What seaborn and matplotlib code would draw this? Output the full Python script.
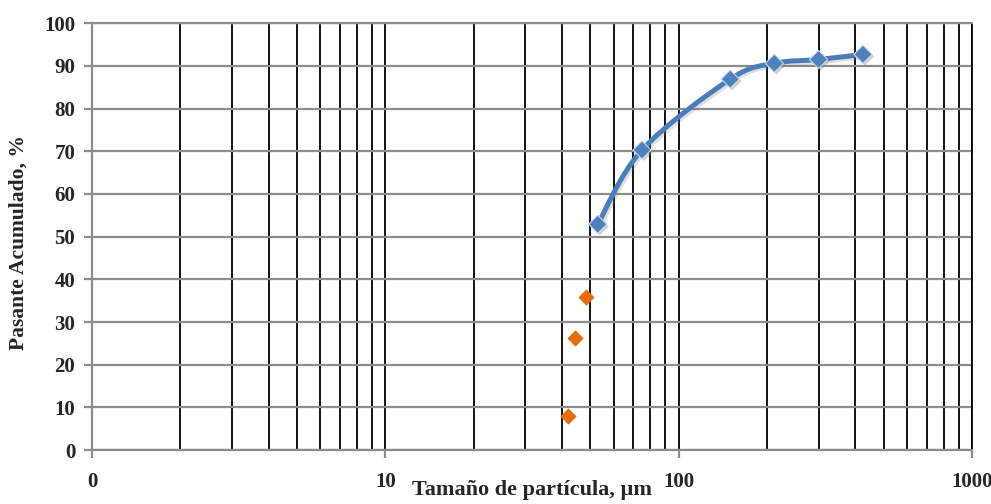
import numpy as np
import pandas as pd
import matplotlib
matplotlib.use('Agg')
import matplotlib.pyplot as plt
import matplotlib.ticker as mticker
import matplotlib.patheffects as pe
from matplotlib.path import Path
from matplotlib.patches import PathPatch
import seaborn as sns

# data
size_um = [53, 75, 150, 212, 300, 425]
pasante = [52.9, 70.3, 86.9, 90.6, 91.5, 92.7]
fine_size_um = [42.0, 44.3, 48.3]
fine_pasante = [8.0, 26.2, 35.9]
x_ticks = [1, 10, 100, 1000]
x_tick_labels = ['0', '10', '100', '1000']
y_ticks = list(range(0, 101, 10))

BLUE = '#4A7EBB'
ORANGE = '#E46C0A'
GRAY = '#8c8c8c'


def smooth_path(xs, ys):
    # cubic bezier through the points (smoothed line like the original), in log-x space
    lx = np.log10(np.asarray(xs, dtype=float))
    y = np.asarray(ys, dtype=float)
    pts = np.column_stack([lx, y])
    n = len(pts)
    verts = [pts[0]]
    codes = [Path.MOVETO]
    for i in range(n - 1):
        p0 = pts[max(i - 1, 0)]
        p1 = pts[i]
        p2 = pts[i + 1]
        p3 = pts[min(i + 2, n - 1)]
        c1 = p1 + (p2 - p0) / 6.0
        c2 = p2 - (p3 - p1) / 6.0
        verts += [c1, c2, p2]
        codes += [Path.CURVE4] * 3
    verts = np.array(verts)
    verts[:, 0] = 10 ** verts[:, 0]
    return Path(verts, codes)


def main():
    sns.set_theme(style='white')
    plt.rcParams['font.family'] = ['Liberation Serif', 'DejaVu Serif']

    df = pd.DataFrame({'size': size_um, 'pasante': pasante})
    df_fine = pd.DataFrame({'size': fine_size_um, 'pasante': fine_pasante})

    fig = plt.figure(figsize=(9.91, 5.04), dpi=100)
    ax = fig.add_axes([0.0928, 0.107, 0.888, 0.847])
    ax.set_xscale('log')
    ax.set_xlim(1, 1000)
    ax.set_ylim(0, 100)

    # grid
    ax.xaxis.set_major_locator(mticker.FixedLocator(x_ticks))
    ax.xaxis.set_minor_locator(mticker.LogLocator(base=10, subs=np.arange(2, 10)))
    ax.xaxis.set_minor_formatter(mticker.NullFormatter())
    ax.set_xticklabels(x_tick_labels)
    ax.set_yticks(y_ticks)
    ax.grid(which='both', axis='x', color='black', lw=1.3)
    ax.grid(which='major', axis='y', color=GRAY, lw=1.6)
    ax.set_axisbelow(True)

    # smoothed line
    patch = PathPatch(smooth_path(size_um, pasante), fill=False, edgecolor=BLUE,
                      lw=3.6, capstyle='round', joinstyle='round', zorder=3,
                      path_effects=[pe.SimpleLineShadow(offset=(1.5, -1.5), shadow_color='gray', alpha=0.25),
                                    pe.Normal()])
    ax.add_patch(patch)

    shadow = [pe.SimplePatchShadow(offset=(1.5, -1.5), shadow_rgbFace='gray', alpha=0.35), pe.Normal()]
    pts = sns.scatterplot(data=df, x='size', y='pasante', ax=ax, marker='D', s=85,
                          color='#4F81BD', edgecolor='#c6d6ea', linewidth=0.8, zorder=4)
    pts.collections[-1].set_path_effects(shadow)
    sns.scatterplot(data=df_fine, x='size', y='pasante', ax=ax, marker='D', s=60,
                    color=ORANGE, edgecolor=ORANGE, linewidth=0.5, zorder=4)

    for side in ['left', 'bottom', 'top']:
        ax.spines[side].set_color(GRAY)
        ax.spines[side].set_linewidth(1.6)
    ax.spines['right'].set_color('black')
    ax.spines['right'].set_linewidth(1.3)

    ax.tick_params(axis='y', which='major', length=6, width=1.6, color=GRAY, direction='out',
                   left=True, labelsize=15, pad=6)
    ax.tick_params(axis='x', which='major', length=6, width=1.6, color=GRAY, direction='out',
                   bottom=True, labelsize=15, pad=10)
    ax.tick_params(axis='x', which='minor', length=0)
    for lab in ax.get_xticklabels() + ax.get_yticklabels():
        lab.set_fontweight('bold')

    ax.set_xlabel('Tamaño de partícula, µm', fontsize=16, fontweight='bold', labelpad=-9)
    ax.set_ylabel('Pasante Acumulado, %', fontsize=15.5, fontweight='bold')
    ax.yaxis.set_label_coords(-0.072, 0.485)

    fig.savefig('out.png', dpi=100)


if __name__ == '__main__':
    main()
